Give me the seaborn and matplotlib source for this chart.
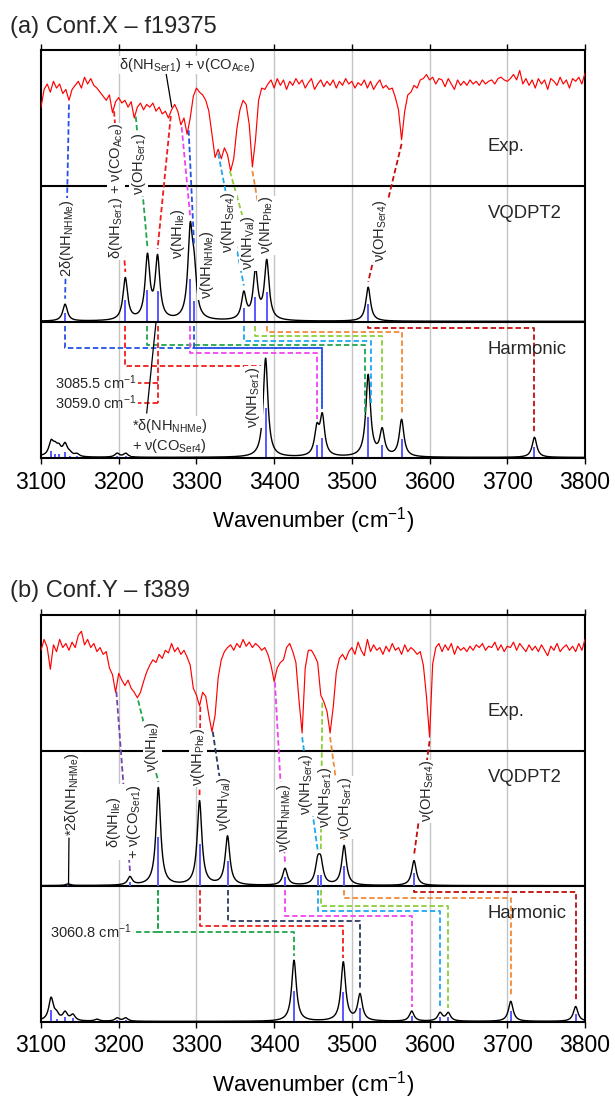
import numpy as np
import matplotlib
matplotlib.use("Agg")
import matplotlib.pyplot as plt
import seaborn as sns

sns.set_theme(style="white")
plt.rcParams["font.family"] = ["Liberation Sans", "DejaVu Sans"]
plt.rcParams["mathtext.fontset"] = "custom"
plt.rcParams["mathtext.rm"] = "Liberation Sans"
plt.rcParams["mathtext.it"] = "Liberation Sans:italic"
plt.rcParams["mathtext.bf"] = "Liberation Sans:bold"
plt.rcParams["mathtext.sf"] = "Liberation Sans"

# ---------------------------------------------------------------- data
exp_wn_start, exp_wn_step = 3100, 4

# experimental IR-dip spectra (relative transmittance, %), every 4 cm-1 from 3100
exp_a = [58, 71, 75, 69, 77, 72, 75, 68, 71, 63,
         71, 74, 77, 72, 80, 75, 79, 74, 72, 69,
         66, 63, 67, 54, 62, 65, 61, 63, 58, 62,
         50, 58, 61, 56, 60, 58, 61, 55, 58, 53,
         55, 50, 56, 60, 55, 45, 50, 38, 50, 66,
         72, 69, 67, 63, 55, 38, 21, 27, 20, 28,
         23, 11, 20, 42, 56, 63, 60, 45, 14, 34,
         63, 72, 71, 75, 78, 72, 79, 74, 78, 71,
         77, 74, 79, 75, 78, 72, 76, 79, 71, 75,
         78, 73, 77, 74, 78, 72, 77, 74, 79, 75,
         77, 72, 76, 74, 78, 72, 77, 71, 75, 78,
         72, 74, 71, 72, 65, 56, 34, 55, 67, 69,
         74, 72, 78, 79, 82, 78, 80, 75, 79, 78,
         73, 79, 75, 71, 78, 74, 77, 74, 78, 75,
         77, 74, 78, 75, 77, 78, 75, 79, 80, 78,
         77, 79, 82, 78, 85, 75, 79, 74, 78, 72,
         79, 75, 78, 71, 79, 77, 74, 80, 75, 78,
         72, 79, 77, 80, 75, 83]

exp_b = [74, 82, 76, 60, 78, 73, 82, 76, 79, 74,
         80, 76, 85, 88, 78, 82, 76, 79, 73, 76,
         71, 73, 61, 56, 43, 57, 52, 48, 52, 46,
         43, 39, 43, 51, 58, 63, 67, 65, 71, 68,
         74, 72, 79, 73, 76, 71, 74, 69, 63, 46,
         41, 33, 43, 40, 26, 14, 26, 54, 67, 73,
         76, 78, 74, 79, 76, 82, 77, 80, 76, 79,
         77, 74, 76, 71, 63, 51, 61, 65, 67, 76,
         79, 73, 65, 37, 13, 61, 74, 74, 70, 65,
         41, 36, 29, 13, 32, 58, 68, 71, 67, 73,
         76, 71, 80, 74, 70, 82, 73, 78, 74, 76,
         71, 77, 73, 79, 74, 76, 71, 78, 73, 76,
         74, 71, 73, 63, 40, 10, 64, 76, 79, 73,
         78, 74, 79, 71, 77, 74, 76, 73, 77, 74,
         78, 76, 79, 74, 77, 76, 80, 74, 78, 73,
         77, 76, 80, 74, 79, 76, 73, 78, 74, 77,
         73, 78, 74, 70, 77, 74, 79, 73, 76, 78,
         74, 77, 73, 79, 74, 82]

# computed stick spectra (frequency cm-1, relative intensity)
vq_a_freq = [3131, 3208.5, 3237, 3250, 3292, 3297, 3361, 3376, 3390.5, 3521]
vq_a_int = [0.062, 0.155, 0.23, 0.225, 0.31, 0.15, 0.097, 0.178, 0.215, 0.125]
harm_a_freq = [3059.0, 3085.5, 3113, 3118, 3123, 3131, 3137, 3146, 3198, 3209,
               3389, 3455, 3462, 3521, 3539, 3564, 3735]
harm_a_int = [0.05, 0.05, 0.05, 0.028, 0.028, 0.043, 0.01, 0.01, 0.014, 0.014,
              0.364, 0.095, 0.142, 0.30, 0.095, 0.136, 0.074]

vq_b_freq = [3135, 3214.5, 3251, 3304, 3340, 3414, 3456, 3460, 3490, 3580]
vq_b_int = [0.006, 0.03, 0.36, 0.31, 0.18, 0.062, 0.075, 0.075, 0.146, 0.092]
harm_b_freq = [3060.8, 3113, 3120, 3131, 3141, 3172, 3198, 3209, 3425.6, 3489,
               3510.5, 3577, 3613.5, 3624, 3704.5, 3788]
harm_b_int = [0.2, 0.083, 0.02, 0.03, 0.022, 0.007, 0.012, 0.012, 0.225, 0.217,
              0.097, 0.037, 0.03, 0.03, 0.074, 0.055]

# correlation links: (colour, exp band, VQDPT2 band)
a_exp_links = [("blue", 3136, 3131), ("red", 3194, 3208.5), ("green", 3222, 3237),
               ("red", 3267, 3250), ("magenta", 3281, 3292), ("blue", 3290, 3297),
               ("cyan", 3328, 3361), ("yg", 3343, 3376), ("orange", 3372, 3390.5),
               ("darkred", 3564, 3521)]
# (colour, VQDPT2 band, link level, harmonic band)
a_harm_links = [("blue", 3131, 0.809, 3462), ("red", 3208.5, 0.676, 3389),
                ("green", 3237, 0.831, 3517), ("magenta", 3292, 0.772, 3455),
                ("blue", 3297, 0.809, 3462), ("cyan", 3361, 0.862, 3524),
                ("yg", 3376, 0.897, 3539), ("orange", 3390.5, 0.929, 3564),
                ("darkred", 3521, 0.954, 3735)]
a_stubs = [("red", 3250, [0.551, 0.404], 3225, ["3085.5 cm$^{-1}$", "3059.0 cm$^{-1}$"])]

b_exp_links = [("purple", 3197, 3214.5), ("green", 3225, 3251), ("red", 3305, 3304),
               ("navy", 3321, 3340), ("magenta", 3401, 3414), ("cyan", 3436, 3456),
               ("yg", 3462, 3460), ("orange", 3472, 3490), ("darkred", 3600, 3580)]
b_harm_links = [("green", 3251, 0.663, 3425.6), ("red", 3304, 0.71, 3489),
                ("navy", 3340, 0.746, 3510.5), ("magenta", 3414, 0.783, 3577),
                ("cyan", 3456, 0.818, 3613.5), ("yg", 3460, 0.857, 3624),
                ("orange", 3490, 0.916, 3704.5), ("darkred", 3580, 0.955, 3788)]
b_stubs = [("green", 3251, [0.663], 3219, ["3060.8 cm$^{-1}$"])]


def s(t):
    return r"$_{\mathrm{%s}}$" % t


a_labels = [("2δ(NH" + s("NHMe") + ")", 3133.5, 1.62, 90, "center"),
            ("δ(NH" + s("Ser1") + ") + ν(CO" + s("Ace") + ")", 3196.5, 1.96, 90, "center"),
            ("ν(OH" + s("Ser1") + ")", 3226, 2.16, 90, "center"),
            ("ν(NH" + s("Ile") + ")", 3275.7, 1.65, 90, "center"),
            ("ν(NH" + s("NHMe") + ")", 3313, 1.42, 90, "center"),
            ("ν(NH" + s("Ser4") + ")", 3340.7, 1.735, 90, "center"),
            ("ν(NH" + s("Val") + ")", 3367, 1.58, 90, "center"),
            ("ν(NH" + s("Phe") + ")", 3390, 1.71, 90, "center"),
            ("ν(OH" + s("Ser4") + ")", 3536, 1.67, 90, "center"),
            ("δ(NH" + s("Ser1") + ") + ν(CO" + s("Ace") + ")", 3288.5, 2.89, 0, "center"),
            ("ν(NH" + s("Ser1") + ")", 3373, 0.45, 90, "center"),
            ("*δ(NH" + s("NHMe") + ")\n+ ν(CO" + s("Ser4") + ")", 3216.7, 0.162, 0, "left")]
a_leaders = [((3260.6, 2.84), (3268.2, 2.58)), ((3236, 0.33), (3248, 1.0))]

b_labels = [("*2δ(NH" + s("NHMe") + ")", 3140, 1.68, 90, "center"),
            ("δ(NH" + s("Ile") + ")\n+ ν(CO" + s("Ser1") + ")", 3207, 1.474, 90, "center"),
            ("ν(NH" + s("Ile") + ")", 3243, 2.03, 90, "center"),
            ("ν(NH" + s("Phe") + ")", 3302, 1.95, 90, "center"),
            ("ν(NH" + s("Val") + ")", 3335.5, 1.61, 90, "center"),
            ("ν(NH" + s("NHMe") + ")", 3413, 1.51, 90, "center"),
            ("ν(NH" + s("Ser4") + ")", 3441, 1.75, 90, "center"),
            ("ν(NH" + s("Ser1") + ")", 3465.5, 1.655, 90, "center"),
            ("ν(OH" + s("Ser1") + ")", 3491, 1.58, 90, "center"),
            ("ν(OH" + s("Ser4") + ")", 3597, 1.70, 90, "center")]
b_leaders = [((3136, 1.356), (3135.4, 1.01))]

band_names = ["Exp.", "VQDPT2", "Harmonic"]
band_name_pos = [(3698.5, 2.29), (3723, 1.80), (3725.5, 0.80)]
titles = ["(a) Conf.X – f19375", "(b) Conf.Y – f389"]
xticks = [3100, 3200, 3300, 3400, 3500, 3600, 3700, 3800]

COL = {"blue": "#2352e8", "red": "#f21c1c", "green": "#1fa64c", "magenta": "#f044f0",
       "cyan": "#1ea8ee", "yg": "#8cce3a", "orange": "#f08a3a", "darkred": "#c40d0d",
       "purple": "#7444ac", "navy": "#2b3a62"}
LS = (0, (3, 1.6))
GAM = 3.6


def lorentz(freqs, ints, x):
    x = np.atleast_1d(np.asarray(x, float))[:, None]
    f = np.asarray(freqs, float)[None, :]
    I = np.asarray(ints, float)[None, :]
    return (2 * I * GAM ** 2 / ((x - f) ** 2 + GAM ** 2)).sum(axis=1)


def draw_panel(ax, exp_vals, vq_f, vq_i, h_f, h_i, exp_links, harm_links, stubs,
               labels, leaders):
    wn = exp_wn_start + exp_wn_step * np.arange(len(exp_vals))
    exp_y = 2 + np.asarray(exp_vals, float) / 100
    x = np.linspace(3030, 3800, 3851)
    base_vq, base_h = 1.005, 0.004
    vq_y = base_vq + lorentz(vq_f, vq_i, x)
    h_y = base_h + lorentz(h_f, h_i, x)

    for g in xticks[1:-1]:
        ax.axvline(g, color="#c4c4c4", lw=1.0, zorder=0)
    for yb in (1, 2):
        ax.axhline(yb, color="black", lw=1.5, zorder=2.5)

    sns.lineplot(x=wn, y=exp_y, ax=ax, color="#ff0000", lw=0.85, estimator=None,
                 sort=False, zorder=3)
    ax.vlines(vq_f, base_vq, base_vq + np.asarray(vq_i), color="#5858ff", lw=1.4, zorder=2.8)
    ax.vlines(h_f, base_h, base_h + np.asarray(h_i), color="#5858ff", lw=1.4, zorder=2.8)
    sns.lineplot(x=x, y=vq_y, ax=ax, color="black", lw=1.0, estimator=None, sort=False, zorder=3)
    sns.lineplot(x=x, y=h_y, ax=ax, color="black", lw=1.0, estimator=None, sort=False, zorder=3)

    def vq_at(v):
        return base_vq + lorentz(vq_f, vq_i, v)[0]

    def h_at(v):
        return base_h + lorentz(h_f, h_i, v)[0]

    for col, xe, xv in exp_links:
        ys = np.interp(xe, wn, exp_y) - 0.03
        ax.plot([xe, xv], [ys, vq_at(xv) + 0.04], color=COL[col], lw=1.3, ls=LS, zorder=4)

    for col, xv, lev, xh in harm_links:
        yc = h_at(xh)
        if yc + 0.03 < lev:
            px = [xv, xv, xh, xh]
            py = [0.97, lev, lev, yc + 0.03]
        else:
            xs = np.arange(xh, xh - 40, -0.2)
            below = xs[base_h + lorentz(h_f, h_i, xs) < lev - 0.03]
            xend = below[0] - 4
            px = [xv, xv, xend]
            py = [0.97, lev, lev]
        ax.plot(px, py, color=COL[col], lw=1.3, ls=LS, zorder=4)

    for col, xv, levs, xend, texts in stubs:
        ax.plot([xv, xv], [0.97, min(levs)], color=COL[col], lw=1.3, ls=LS, zorder=4)
        for lev, t in zip(levs, texts):
            ax.plot([xv, xend], [lev, lev], color=COL[col], lw=1.3, ls=LS, zorder=4)
            ax.text(xend - 2.5, lev, t, ha="right", va="center", fontsize=10.5, zorder=6)

    for t, lx, ly, rot, ha in labels:
        ax.text(lx, ly, t, rotation=rot, ha=ha, va="center", ma=ha,
                fontsize=10.5, zorder=6,
                bbox=dict(facecolor="white", edgecolor="none", pad=0.3))

    for (x0, y0), (x1, y1) in leaders:
        ax.plot([x0, x1], [y0, y1], color="black", lw=0.9, zorder=5)

    for name, (nx, ny) in zip(band_names, band_name_pos):
        ax.text(nx, ny, name, ha="center", va="center", fontsize=13.3, zorder=6)

    ax.set_xlim(3100, 3800)
    ax.set_ylim(0, 3)
    ax.set_yticks([])
    ax.set_xticks(xticks)
    ax.set_xticklabels([str(v) for v in xticks])
    ax.tick_params(axis="x", which="both", top=True, bottom=True, direction="out",
                   length=4, width=1.0, labelsize=16.5, pad=5, colors="black")
    ax.set_ylabel("")
    ax.set_xlabel("Wavenumber (cm$^{-1}$)", fontsize=16, labelpad=8, color="black")
    for sp in ax.spines.values():
        sp.set_visible(True)
        sp.set_color("black")
        sp.set_linewidth(1.5)


fig = plt.figure(figsize=(6.15, 11.02), dpi=100)
axA = fig.add_axes([41 / 615, 1 - 458 / 1102, 544 / 615, 408 / 1102])
axB = fig.add_axes([41 / 615, 1 - 1022 / 1102, 544 / 615, 407 / 1102])

draw_panel(axA, exp_a, vq_a_freq, vq_a_int, harm_a_freq, harm_a_int,
           a_exp_links, a_harm_links, a_stubs, a_labels, a_leaders)
draw_panel(axB, exp_b, vq_b_freq, vq_b_int, harm_b_freq, harm_b_int,
           b_exp_links, b_harm_links, b_stubs, b_labels, b_leaders)

fig.text(10 / 615, 1 - 33 / 1102, titles[0], fontsize=17, ha="left", va="baseline")
fig.text(10 / 615, 1 - 597 / 1102, titles[1], fontsize=17, ha="left", va="baseline")

fig.savefig("out.png", dpi=100)
